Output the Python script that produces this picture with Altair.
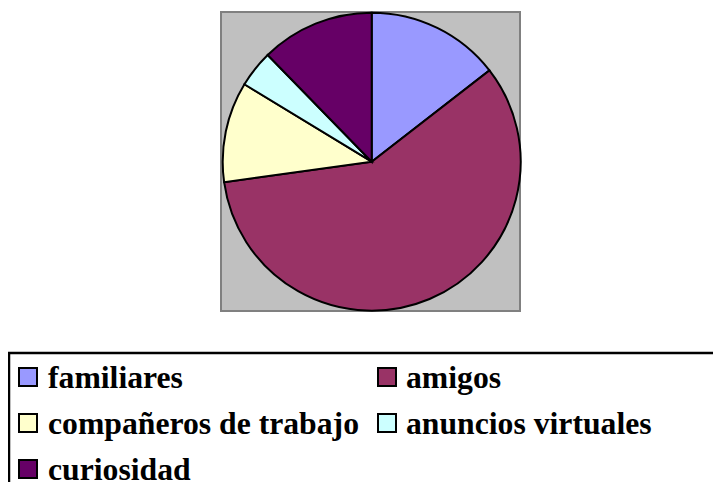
import altair as alt
import pandas as pd

categories = ["familiares", "amigos", "compañeros de trabajo", "anuncios virtuales", "curiosidad"]
values = [14.5, 58.3, 10.9, 4.0, 12.3]
colors = ["#9999FF", "#993366", "#FFFFCC", "#CCFFFF", "#660066"]

W, H = 705, 474

df = pd.DataFrame({"cat": categories, "value": values, "idx": list(range(len(categories)))})

# legend grid positions (2 columns)
df["sx"] = [20 if i % 2 == 0 else 379 for i in range(len(df))]
df["tx"] = [40 if i % 2 == 0 else 398 for i in range(len(df))]
df["sy"] = [369 + 46 * (i // 2) for i in range(len(df))]
df["ty"] = df["sy"] + 11

color_scale = alt.Scale(domain=categories, range=colors)

bg = alt.Chart(alt.Data(values=[{}])).mark_rect(
    fill="#C0C0C0", stroke="#808080", strokeWidth=2
).encode(x=alt.value(213), x2=alt.value(512), y=alt.value(4), y2=alt.value(303))

pie = alt.Chart(df).mark_arc(outerRadius=149, stroke="black", strokeWidth=2).encode(
    theta=alt.Theta("value:Q", stack=True),
    color=alt.Color("cat:N", scale=color_scale, legend=None),
    order=alt.Order("idx:Q"),
    x=alt.value(363.7),
    y=alt.value(153.7),
)

legbox = alt.Chart(alt.Data(values=[{}])).mark_rect(
    fill="white", stroke="black", strokeWidth=2.5
).encode(x=alt.value(1), x2=alt.value(W + 20), y=alt.value(345), y2=alt.value(H + 20))

swatches = alt.Chart(df).mark_square(size=324, filled=True, stroke="black", strokeWidth=2, opacity=1).encode(
    x=alt.X("sx:Q", scale=None, axis=None),
    y=alt.Y("sy:Q", scale=None, axis=None),
    color=alt.Color("cat:N", scale=color_scale, legend=None),
)

labels = alt.Chart(df).mark_text(
    align="left", baseline="alphabetic", font="Liberation Serif",
    fontWeight="bold", fontSize=31.7, color="black"
).encode(
    x=alt.X("tx:Q", scale=None, axis=None),
    y=alt.Y("ty:Q", scale=None, axis=None),
    text="cat:N",
)

chart = alt.layer(bg, pie, legbox, swatches, labels).properties(
    width=W, height=H, padding=0, autosize="none"
).configure_view(strokeWidth=0)

chart.save("out.html", embed_options={"renderer": "svg", "actions": False})
